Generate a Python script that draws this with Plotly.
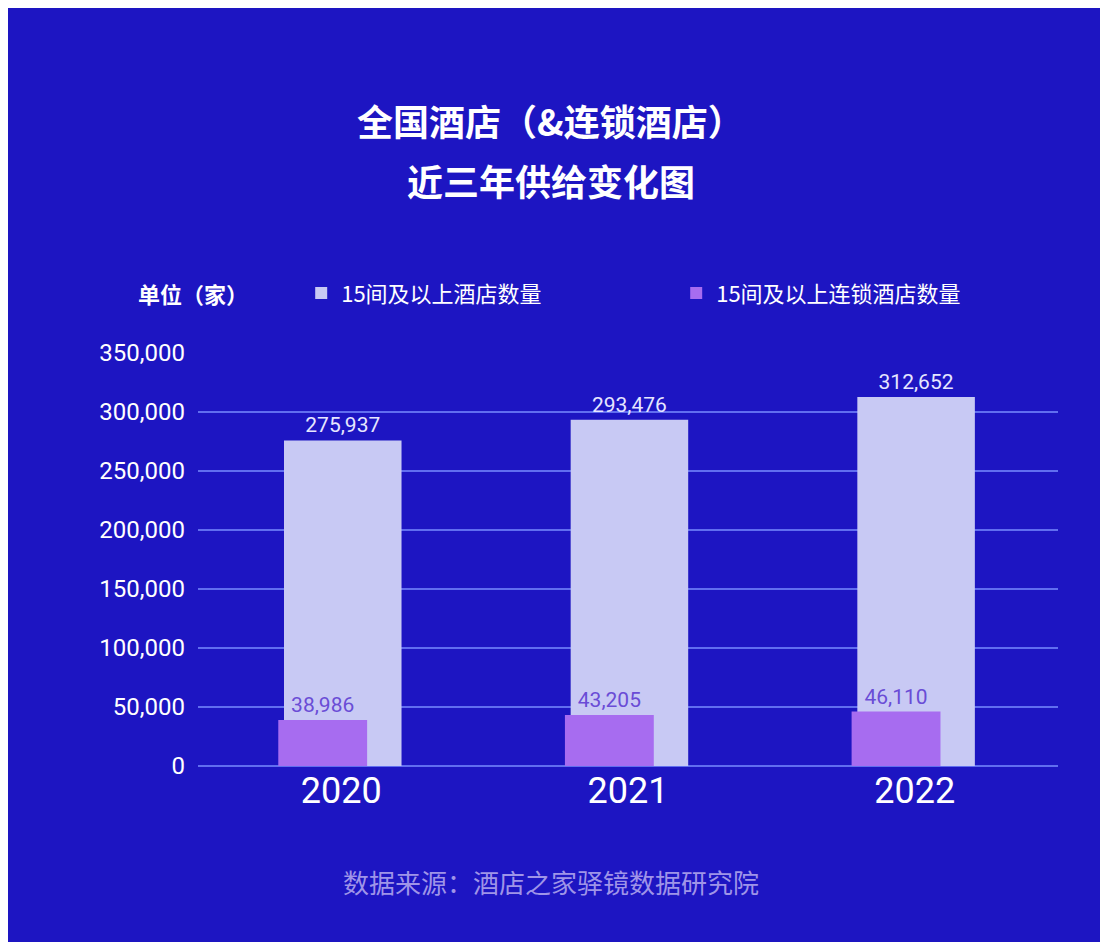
import plotly.graph_objects as go

years = ["2020", "2021", "2022"]
hotels = [275937, 293476, 312652]
chain_hotels = [38986, 43205, 46110]
y_ticks = [0, 50000, 100000, 150000, 200000, 250000, 300000, 350000]

fig = go.Figure()
fig.add_trace(go.Bar(
    x=years, y=hotels, name="15间及以上酒店数量",
    width=0.41, offset=-0.2,
    marker=dict(color="#c8c9f4", line=dict(width=0)),
    text=hotels, texttemplate="%{y:,}", textposition="outside",
    textfont=dict(color="#e6e6ff", size=21, family="Roboto"),
    cliponaxis=False,
))
fig.add_trace(go.Bar(
    x=years, y=chain_hotels, name="15间及以上连锁酒店数量",
    width=0.31, offset=-0.22,
    marker=dict(color="#a76cf0", line=dict(width=0)),
    text=chain_hotels, texttemplate="%{y:,}", textposition="outside",
    textfont=dict(color="#6a4cd6", size=21, family="Roboto"),
    cliponaxis=False,
))

title_lines = ["<b>全国酒店（&连锁酒店）</b>", "<b>近三年供给变化图</b>"]
title_y = [1.564, 1.419]

annotations = [
    dict(text=t, x=0.41, y=y, xref="paper", yref="paper", xanchor="center",
         yanchor="middle", showarrow=False,
         font=dict(size=36, color="white", family="Noto Sans CJK SC"))
    for t, y in zip(title_lines, title_y)
]
annotations += [
    dict(text="<b>单位（家）</b>", x=0.06, y=1.145, xref="paper", yref="paper",
         xanchor="right", yanchor="middle", showarrow=False,
         font=dict(size=22, color="white")),
    dict(text="数据来源：酒店之家驿镜数据研究院", x=0.41, y=-0.28,
         xref="paper", yref="paper", xanchor="center", yanchor="middle",
         showarrow=False, font=dict(size=26, color="#9f94e8")),
]

fig.update_layout(
    width=1108, height=942,
    barmode="overlay",
    paper_bgcolor="#1d15c2",
    plot_bgcolor="rgba(0,0,0,0)",
    margin=dict(l=190, r=58, t=345, b=184),
    font=dict(family="Noto Sans CJK SC", color="white"),
    legend=dict(
        orientation="h", x=0.12, y=1.145, xanchor="left", yanchor="middle",
        font=dict(size=22, color="white"), entrywidth=330,
        bgcolor="rgba(0,0,0,0)", itemsizing="constant",
    ),
    xaxis=dict(
        tickfont=dict(size=36, color="white", family="Roboto"),
        showgrid=False, showline=False, ticks="",
    ),
    yaxis=dict(
        range=[0, 350000], tickvals=y_ticks, tickformat=",",
        tickfont=dict(size=24, color="white", family="Roboto"),
        gridcolor="rgba(120,140,255,0.75)", gridwidth=1.5,
        zeroline=True, zerolinecolor="rgba(120,140,255,0.75)", zerolinewidth=1.5,
        ticklabelstandoff=12,
    ),
    annotations=annotations,
)

fig.write_html("out.html")
